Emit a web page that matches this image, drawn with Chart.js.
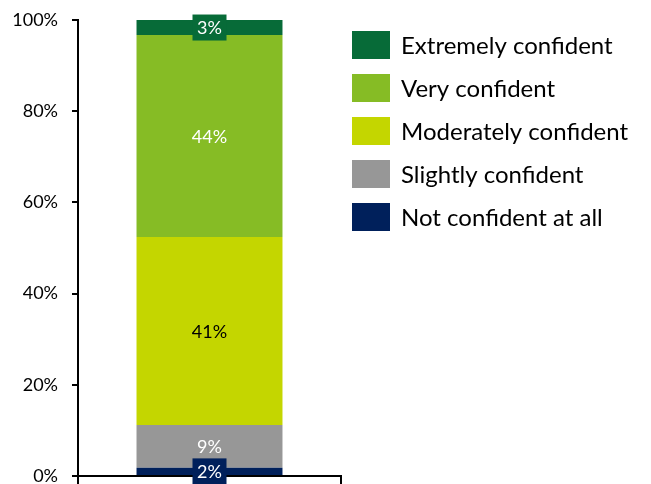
<!DOCTYPE html>
<html>
<head>
<meta charset="utf-8">
<script src="https://cdn.jsdelivr.net/npm/chart.js@4/dist/chart.umd.min.js"></script>
<style>
  html, body { margin: 0; padding: 0; background: #fff; }
  #wrap { width: 651px; height: 484px; }
</style>
</head>
<body>
<div id="wrap"><canvas id="chart" width="651" height="484"></canvas></div>
<script>
// Datos de la encuesta (porcentaje de respuestas)
const categories = [''];
const seriesNames = ['Not confident at all', 'Slightly confident', 'Moderately confident', 'Very confident', 'Extremely confident'];
const notConfident = [1.8];
const slightly = [9.4];
const moderately = [41.2];
const very = [44.3];
const extremely = [3.3];
const yTicks = [0, 20, 40, 60, 80, 100];

const colors = ['#00205B', '#979797', '#C4D600', '#86BC25', '#076B38'];
const labelColors = ['#fff', '#fff', '#000', '#fff', '#fff'];
const seriesValues = [notConfident, slightly, moderately, very, extremely];

const FONT = 'Lato, "Open Sans", sans-serif';

// Etiquetas de valor sobre cada segmento
const valueLabels = {
    id: 'valueLabels',
    afterDraw(chart) {
        const ctx = chart.ctx;
        ctx.save();
        ctx.font = '18px ' + FONT;
        ctx.textAlign = 'center';
        ctx.textBaseline = 'middle';
        chart.data.datasets.forEach((ds, i) => {
            const meta = chart.getDatasetMeta(i);
            meta.data.forEach((bar, j) => {
                const v = ds.data[j];
                const cy = (bar.y + bar.base) / 2;
                if (v < 5) {
                    ctx.fillStyle = ds.backgroundColor;
                    ctx.fillRect(bar.x - 17, cy - 13, 34, 26);
                }
                ctx.fillStyle = labelColors[i];
                ctx.fillText(Math.round(v) + '%', bar.x, cy + 1);
            });
        });
        ctx.restore();
    }
};

// Leyenda a la derecha, en orden inverso
const sideLegend = {
    id: 'sideLegend',
    afterDraw(chart) {
        const ctx = chart.ctx;
        const x = chart.chartArea.right + 11;
        ctx.save();
        ctx.font = '24px ' + FONT;
        ctx.textBaseline = 'middle';
        ctx.textAlign = 'left';
        const n = chart.data.datasets.length;
        for (let k = 0; k < n; k++) {
            const ds = chart.data.datasets[n - 1 - k];
            const top = 31 + k * 43;
            ctx.fillStyle = ds.backgroundColor;
            ctx.fillRect(x, top, 38, 28);
            ctx.fillStyle = '#000';
            ctx.fillText(ds.label, x + 49, top + 15);
        }
        ctx.restore();
    }
};

const ctx = document.getElementById('chart').getContext('2d');
const chart = new Chart(ctx, {
    type: 'bar',
    data: {
        labels: categories,
        datasets: seriesNames.map((name, i) => ({
            label: name,
            data: seriesValues[i],
            backgroundColor: colors[i],
            borderWidth: 0,
            categoryPercentage: 1,
            barPercentage: 0.555
        }))
    },
    options: {
        responsive: false,
        animation: false,
        layout: { padding: { top: 20, right: 310, bottom: 0, left: 0 } },
        plugins: {
            legend: { display: false },
            tooltip: { enabled: false }
        },
        scales: {
            x: {
                stacked: true,
                grid: {
                    offset: true,
                    drawOnChartArea: false,
                    drawTicks: true,
                    tickLength: 8,
                    color: '#000',
                    lineWidth: 2
                },
                border: { color: '#000', width: 2 },
                ticks: { display: false },
                afterFit(scale) {
                    scale.height = 8;
                    scale.paddingLeft = scale.paddingRight = 0;
                }
            },
            y: {
                stacked: true,
                min: 0,
                max: 100,
                afterBuildTicks(scale) { scale.ticks = yTicks.map(v => ({ value: v })); },
                ticks: {
                    color: '#000',
                    font: { family: FONT, size: 18 },
                    padding: 14,
                    callback: v => v + '%'
                },
                grid: {
                    drawOnChartArea: false,
                    drawTicks: true,
                    tickLength: 6,
                    color: '#000',
                    lineWidth: 2
                },
                border: { color: '#000', width: 2 },
                afterFit(scale) {
                    scale.width = 78;
                    scale.paddingTop = scale.paddingBottom = 0;
                }
            }
        }
    },
    plugins: [valueLabels, sideLegend]
});
</script>
</body>
</html>
